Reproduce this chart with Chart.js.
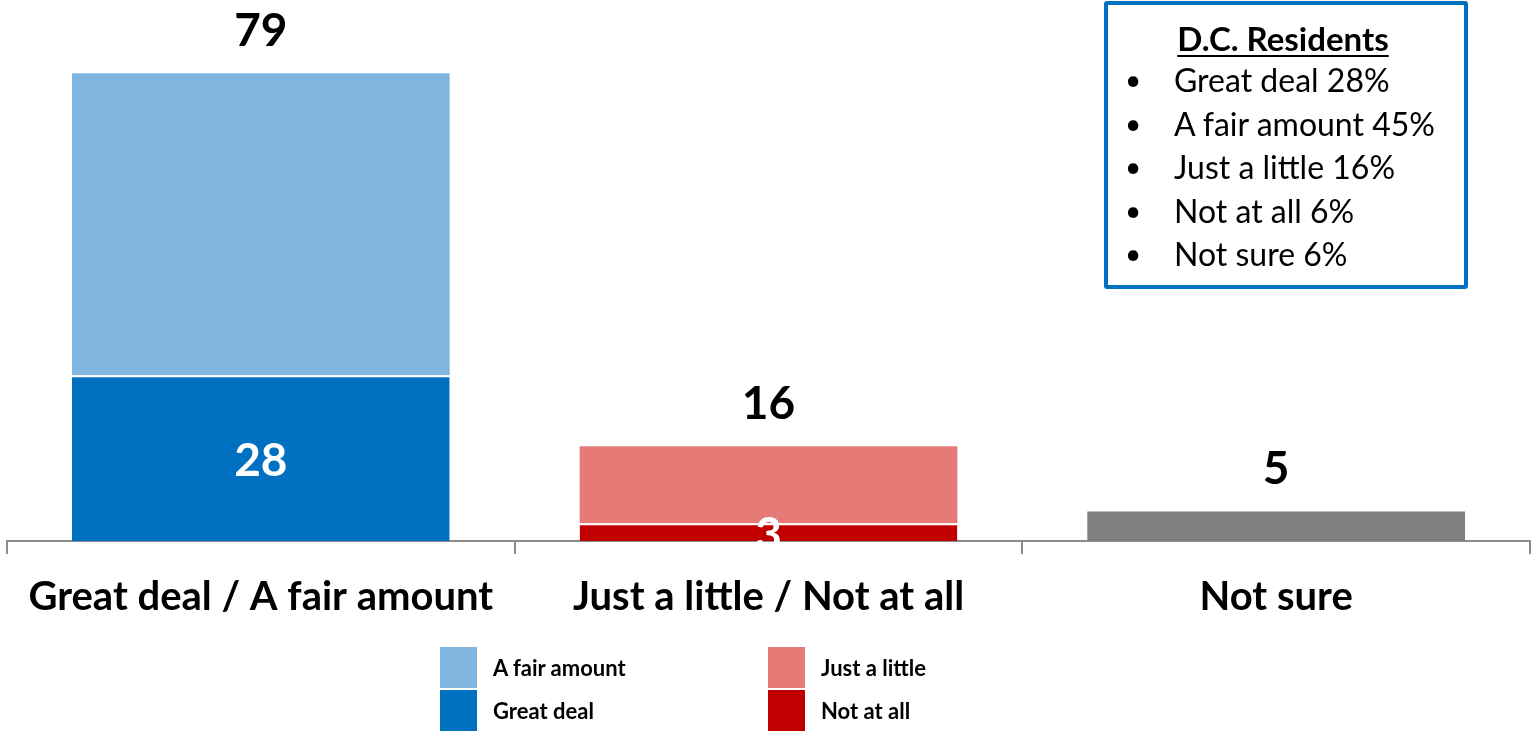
<!DOCTYPE html>
<html>
<head>
<meta charset="utf-8">
<script src="https://cdn.jsdelivr.net/npm/chart.js@4/dist/chart.umd.min.js"></script>
<style>
  html, body { margin: 0; padding: 0; background: #fff; }
  #wrap { position: relative; width: 1532px; height: 731px; overflow: hidden; font-family: Lato, "Open Sans", sans-serif; }
  #myChart { position: absolute; left: 0; top: 0; }
  #box { position: absolute; left: 1104px; top: 1px; width: 356px; height: 280px; border: 4px solid #0070C0; border-radius: 3px; }
  #box h3 { margin: 13px 0 0 0; text-align: center; font-size: 33px; font-weight: 700; line-height: 40px; text-decoration: underline; text-underline-offset: 4px; text-decoration-thickness: 2px; padding-right: 6px; }
  #box ul { list-style: none; margin: 0; padding: 0; }
  #box li { position: relative; font-size: 32px; line-height: 43.5px; padding-left: 66px; white-space: nowrap; }
  #box li::before { content: "\2022"; position: absolute; left: 17px; font-size: 28px; }
  #legend { position: absolute; left: 440px; top: 647px; }
  .item { position: absolute; display: flex; align-items: center; font-size: 22px; font-weight: 700; white-space: nowrap; }
  .sw { width: 37px; height: 41px; margin-right: 16px; }
</style>
</head>
<body>
<div id="wrap">
  <canvas id="myChart" width="1532" height="731"></canvas>
  <div id="box">
    <h3 id="boxTitle"></h3>
    <ul id="boxList"></ul>
  </div>
  <div id="legend"></div>
</div>
<script>
// ---- datos
const categorias = ["Great deal / A fair amount", "Just a little / Not at all", "Not sure"];
const greatDeal = [28, null, null];
const fairAmount = [51, null, null];
const notAtAll = [null, 3, null];
const justLittle = [null, 13, null];
const notSure = [null, null, 5];
const totales = [79, 16, 5];

const residentesTitulo = "D.C. Residents";
const residentesItems = ["Great deal", "A fair amount", "Just a little", "Not at all", "Not sure"];
const residentesValores = [28, 45, 16, 6, 6];

// ---- caja D.C. Residents
document.getElementById("boxTitle").textContent = residentesTitulo;
const boxList = document.getElementById("boxList");
residentesItems.forEach((item, i) => {
    let li = document.createElement("li");
    li.textContent = item + " " + residentesValores[i] + "%";
    boxList.appendChild(li);
});

const ctx = document.getElementById('myChart');

const datasets = [
    { label: "Great deal", data: greatDeal, backgroundColor: "#0070C0", inLabel: true },
    { label: "A fair amount", data: fairAmount, backgroundColor: "#7FB5DE" },
    { label: "Not at all", data: notAtAll, backgroundColor: "#C00000", inLabel: true },
    { label: "Just a little", data: justLittle, backgroundColor: "#E57A77" },
    { label: "Not sure", data: notSure, backgroundColor: "#808080" }
];
datasets.forEach(d => {
    d.borderColor = "#ffffff";
    d.borderWidth = d.inLabel ? { top: 2, left: 0, right: 0, bottom: 0 } : 0;
    d.borderSkipped = "start";
});

// etiquetas de valores
const etiquetas = {
    id: "etiquetas",
    afterDatasetsDraw(chart) {
        const c = chart.ctx;
        c.save();
        c.textAlign = "center";
        c.textBaseline = "middle";
        // valores dentro de los segmentos oscuros
        chart.data.datasets.forEach((ds, di) => {
            if (!ds.inLabel) return;
            const meta = chart.getDatasetMeta(di);
            meta.data.forEach((bar, i) => {
                if (ds.data[i] == null) return;
                c.fillStyle = "#ffffff";
                c.font = "bold 46px Lato";
                c.fillText(ds.data[i], bar.x, (bar.y + bar.base) / 2 + 3);
            });
        });
        // totales encima
        const yScale = chart.scales.y;
        const xScale = chart.scales.x;
        totales.forEach((t, i) => {
            c.fillStyle = "#000000";
            c.font = "bold 46px Lato";
            c.fillText(t, xScale.getPixelForValue(i), yScale.getPixelForValue(t) - 42);
        });
        c.restore();
    }
};

new Chart(ctx, {
    type: 'bar',
    data: { labels: categorias, datasets: datasets },
    options: {
        responsive: false,
        animation: false,
        events: [],
        layout: { padding: { top: 8, left: 7, right: 2, bottom: 0 } },
        datasets: { bar: { categoryPercentage: 1, barPercentage: 0.744 } },
        plugins: { legend: { display: false }, tooltip: { enabled: false } },
        scales: {
            x: {
                stacked: true,
                grid: { display: true, drawOnChartArea: false, drawTicks: true, tickLength: 13, color: "#8C8C8C", lineWidth: 2 },
                border: { display: true, color: "#8C8C8C", width: 2 },
                ticks: { color: "#000000", font: { family: "Lato", size: 40, weight: "bold" }, padding: 19, maxRotation: 0 },
                afterFit: (s) => { s.height = 190; }
            },
            y: {
                stacked: true,
                display: false,
                min: 0,
                max: 90
            }
        }
    },
    plugins: [etiquetas]
});

// ---- leyenda
const legend = document.getElementById("legend");
const orden = [
    [1, 0, 0], [0, 0, 43], [3, 328, 0], [2, 328, 43]
];
orden.forEach(o => {
    const ds = datasets[o[0]];
    let div = document.createElement("div");
    div.className = "item";
    div.style.left = o[1] + "px";
    div.style.top = o[2] + "px";
    let sw = document.createElement("div");
    sw.className = "sw";
    sw.style.background = ds.backgroundColor;
    let span = document.createElement("span");
    span.textContent = ds.label;
    div.appendChild(sw);
    div.appendChild(span);
    legend.appendChild(div);
});
</script>
</body>
</html>
